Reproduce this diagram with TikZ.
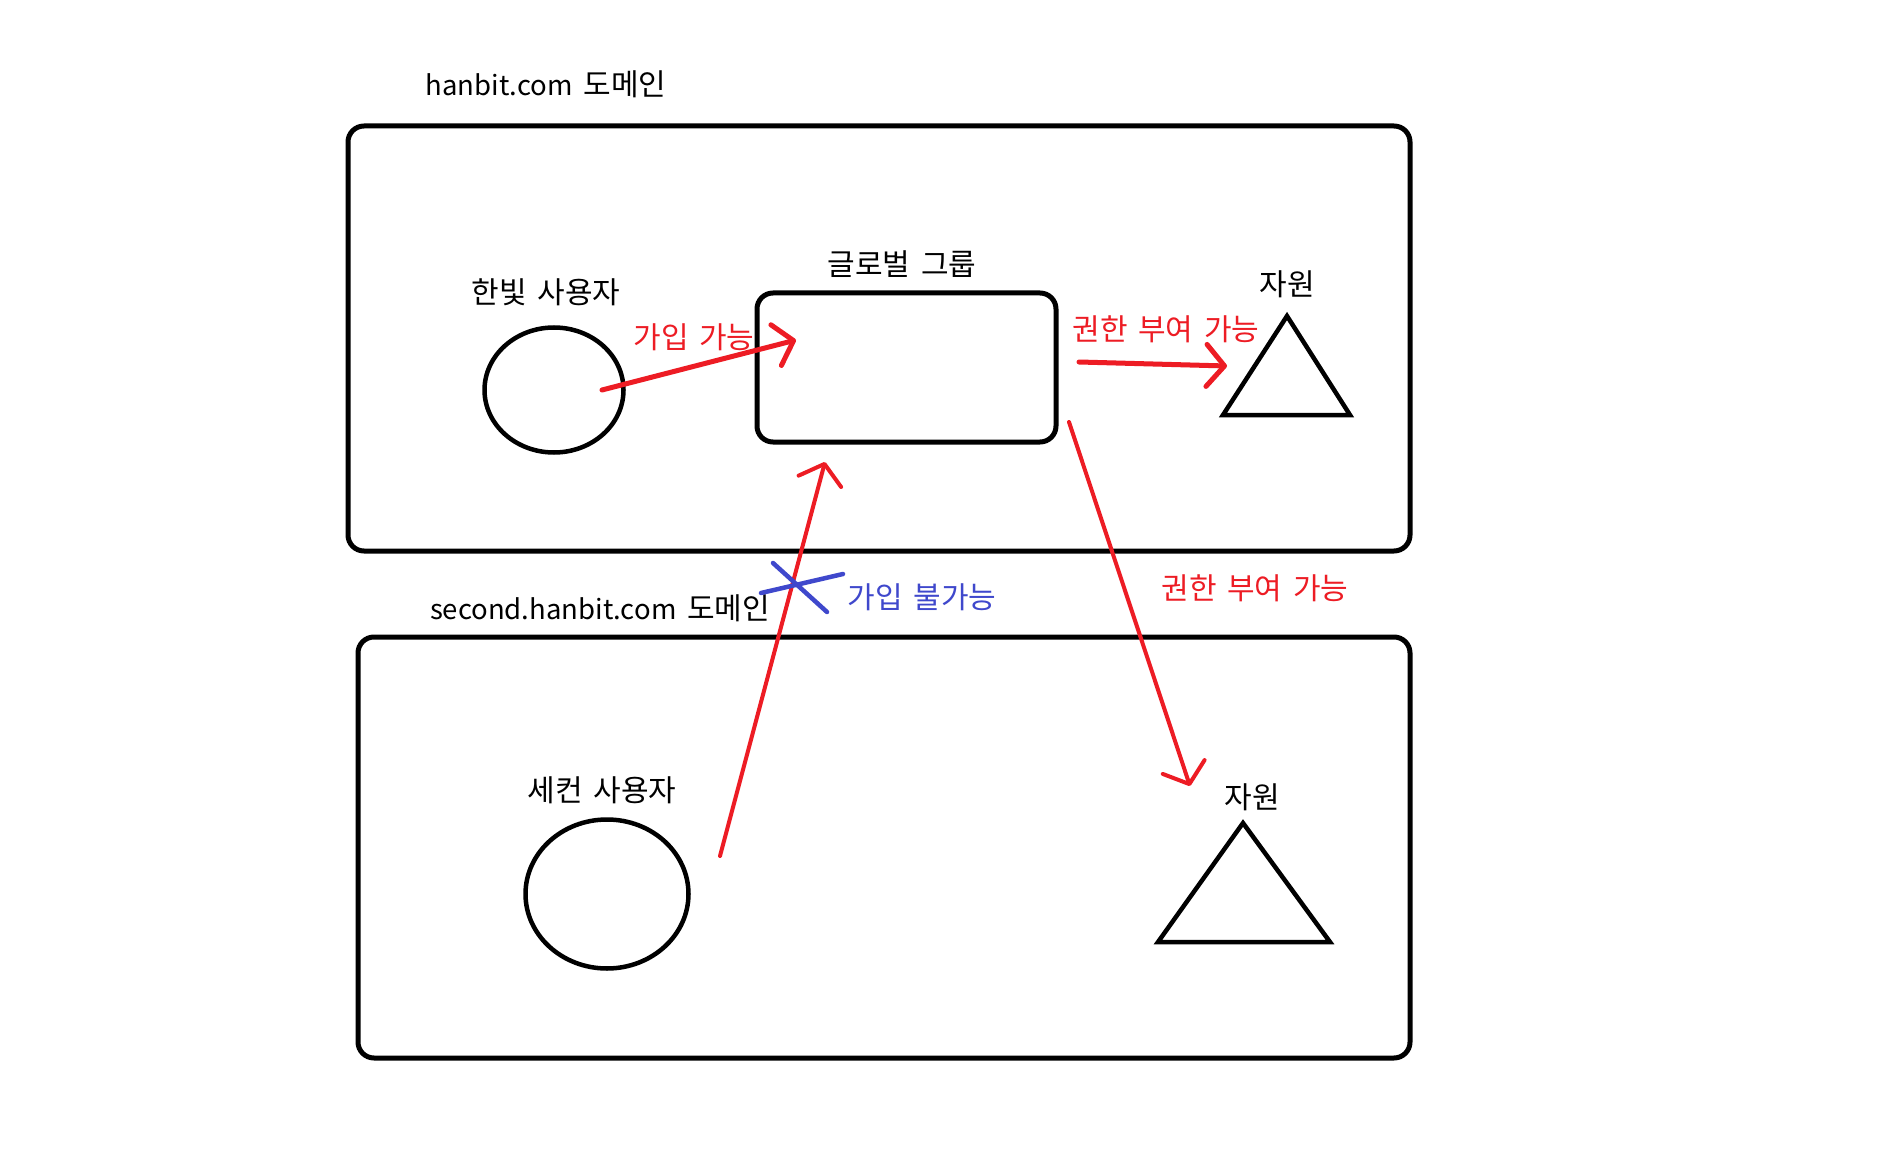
\documentclass[tikz,border=0pt]{standalone}
\usepackage{fontspec}
\setmainfont[WordSpace=1.6]{Noto Sans CJK KR}
\usetikzlibrary{arrows.meta,shapes.geometric}
\definecolor{pred}{HTML}{ED1C24}
\definecolor{pblue}{HTML}{3F48CC}
\newcommand{\lat}[1]{{\fontsize{27.5}{30}\selectfont #1}}
\begin{document}
\begin{tikzpicture}[x=1pt,y=-1pt,
  domainbox/.style={draw, line width=5pt, rounded corners=16pt, inner sep=0pt},
  userell/.style={draw, ellipse, line width=4.5pt, inner sep=0pt},
  grpbox/.style={draw, line width=5pt, rounded corners=16pt, inner sep=0pt},
  tri/.style={draw, line width=4.5pt, line join=miter},
  lbl/.style={font=\fontsize{30}{34}\selectfont, inner sep=0pt},
  redlbl/.style={lbl, text=pred},
  bluelbl/.style={lbl, text=pblue},
  thickarr/.style={draw=pred, line width=5pt, line cap=round, line join=round,
    -{Straight Barb[length=18pt,width=42pt,line width=5pt,round]}},
  thinarr/.style={draw=pred, line width=4pt, line cap=round, line join=round,
    -{Straight Barb[length=18pt,width=44pt,line width=4pt,round]}},
  xmark/.style={draw=pblue, line width=4.5pt, line cap=round}
]
\useasboundingbox (0,0) rectangle (1883,1158);
\fill[white] (0,0) rectangle (1883,1158);

% domains
\node[domainbox, minimum width=1062pt, minimum height=425pt] (dom1) at (879,338.5) {};
\node[domainbox, minimum width=1052pt, minimum height=421pt] (dom2) at (884,847.5) {};
\node[lbl] (dom1lbl) at (546,84) {\lat{hanbit.com} 도메인};
\node[lbl] (dom2lbl) at (600,608) {\lat{second.hanbit.com} 도메인};

% users
\node[userell, minimum width=139pt, minimum height=125pt] (u1) at (554,390) {};
\node[lbl] (u1lbl) at (546,292) {한빛 사용자};
\node[userell, minimum width=163pt, minimum height=149pt] (u2) at (607,894) {};
\node[lbl] (u2lbl) at (602,790) {세컨 사용자};

% global group
\node[grpbox, minimum width=299pt, minimum height=149pt] (grp) at (906.5,367.5) {};
\node[lbl] (grplbl) at (902,264) {글로벌 그룹};

% resources (triangles)
\coordinate (r1a) at (1287,316);
\coordinate (r1b) at (1223,415);
\coordinate (r1c) at (1350,415);
\draw[tri] (r1a) -- (r1b) -- (r1c) -- cycle;
\node[lbl] (r1lbl) at (1287,284) {자원};
\coordinate (r2a) at (1243,823);
\coordinate (r2b) at (1158,942);
\coordinate (r2c) at (1330,942);
\draw[tri] (r2a) -- (r2b) -- (r2c) -- cycle;
\node[lbl] (r2lbl) at (1252,797) {자원};

% arrow endpoints
\coordinate (a1s) at (602,390);
\coordinate (a1e) at (796,340);
\coordinate (a2s) at (1079,362);
\coordinate (a2e) at (1227,366);
\coordinate (a3s) at (720,856);
\coordinate (a3e) at (825,462);
\coordinate (a4s) at (1069,422);
\coordinate (a4e) at (1190,786);

\draw[thickarr] (a1s) -- (a1e);
\draw[thickarr] (a2s) -- (a2e);
\draw[thinarr] (a3s) -- (a3e);
\draw[thinarr] (a4s) -- (a4e);

\node[redlbl] (l1) at (694,337) {가입 가능};
\node[redlbl] (l2) at (1166,329) {권한 부여 가능};
\node[redlbl] (l3) at (1255,588) {권한 부여 가능};

% blue cross
\coordinate (x1a) at (773,563);
\coordinate (x1b) at (827,612);
\coordinate (x2a) at (761,593);
\coordinate (x2b) at (843,574);
\draw[xmark] (x1a) -- (x1b);
\draw[xmark] (x2a) -- (x2b);
\node[bluelbl] (l4) at (922,597) {가입 불가능};
\end{tikzpicture}
\end{document}
